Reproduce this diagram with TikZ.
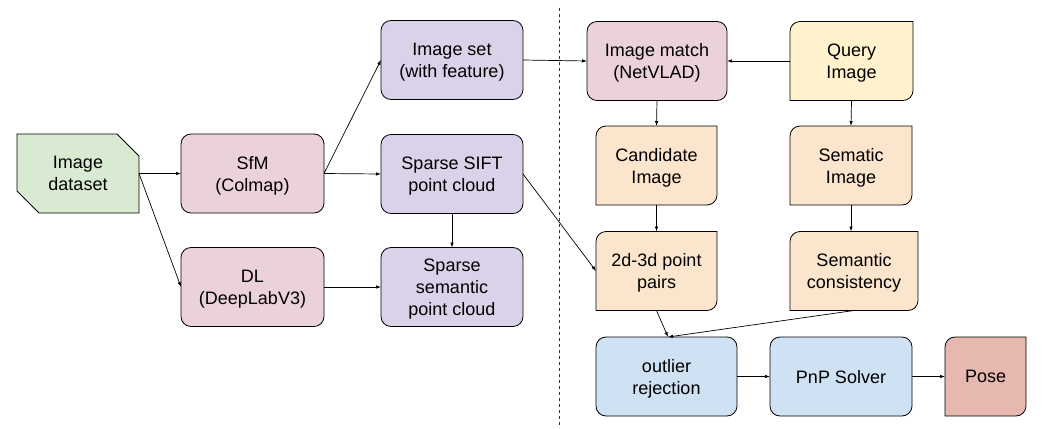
\documentclass[tikz,border=0pt]{standalone}
\usepackage{fontspec}
\setmainfont{Liberation Sans}
\usetikzlibrary{shapes.misc,arrows.meta,backgrounds}
\newcommand{\boxfont}{\fontsize{18}{22}\selectfont}
\newcommand{\cornerpath}[2]{%
  \draw[fill=#2,line width=0.8pt] (#1.north east) -- ([yshift=10pt]#1.south east) arc[start angle=0,end angle=-90,radius=10pt] -- (#1.south west) -- ([yshift=-10pt]#1.north west) arc[start angle=180,end angle=90,radius=10pt] -- cycle;}
\definecolor{dsetgreen}{HTML}{D9EAD3}
\definecolor{stagepink}{HTML}{EAD1DC}
\definecolor{mappurple}{HTML}{D9D2E9}
\definecolor{queryyellow}{HTML}{FFF2CC}
\definecolor{imgpeach}{HTML}{FCE5CD}
\definecolor{solveblue}{HTML}{CFE2F3}
\definecolor{poserose}{HTML}{E6B8AF}
\begin{document}
\begin{tikzpicture}[x=1pt,y=1pt]
	          \useasboundingbox (0,0) rectangle (1043,-428);
	          \begin{scope}[every node/.style={align=center,font=\boxfont,text depth=-2pt,outer sep=0pt,line width=0.8pt,minimum height=79pt}]
	            \node[chamfered rectangle,chamfered rectangle corners={north east,south west},chamfered rectangle xsep=11pt,chamfered rectangle ysep=11pt,draw,fill=dsetgreen,minimum width=122pt] (dset) at (78,-173.5) {Image\\dataset};
	            \node[draw,rounded corners=10pt,fill=stagepink,minimum width=143pt] (sfm) at (252.5,-173.5) {SfM\\(Colmap)};
	            \node[draw,rounded corners=10pt,fill=stagepink,minimum width=143pt] (dl) at (252.5,-287) {DL\\(DeepLabV3)};
	            \node[draw,rounded corners=10pt,fill=mappurple,minimum width=142pt] (iset) at (452,-60) {Image set\\(with feature)};
	            \node[draw,rounded corners=10pt,fill=mappurple,minimum width=142pt] (sift) at (452,-174) {Sparse SIFT\\point cloud};
	            \node[draw,rounded corners=10pt,fill=mappurple,minimum width=142pt] (ssem) at (452,-287) {Sparse\\semantic\\point cloud};
	            \node[draw,rounded corners=10pt,fill=stagepink,minimum width=140pt] (match) at (657,-61) {Image match\\(NetVLAD)};
	            \node[minimum width=123pt] (query) at (851.5,-61) {Query\\Image};
	            \node[minimum width=121pt] (cand) at (656.5,-165.5) {Candidate\\Image};
	            \node[minimum width=122pt] (semimg) at (851,-165.5) {Sematic\\Image};
	            \node[minimum width=121pt] (pairs) at (656.5,-271) {2d-3d point\\pairs};
	            \node[minimum width=128pt] (cons) at (854,-271) {Semantic\\consistency};
	            \node[draw,rounded corners=10pt,fill=solveblue,minimum width=141pt] (outlier) at (666.5,-376.5) {outlier\\rejection};
	            \node[draw,rounded corners=10pt,fill=solveblue,minimum width=142pt] (pnp) at (841,-376.5) {PnP Solver};
	            \node[minimum width=81pt] (pose) at (985.5,-376.5) {Pose};
	          \end{scope}
	          \begin{scope}[on background layer]
	            \cornerpath{query}{queryyellow}
	            \cornerpath{cand}{imgpeach}
	            \cornerpath{semimg}{imgpeach}
	            \cornerpath{pairs}{imgpeach}
	            \cornerpath{cons}{imgpeach}
	            \cornerpath{pose}{poserose}
	          \end{scope}
	          % separator between offline and online part
	          \coordinate (septop) at (559,-8);
	          \coordinate (sepbot) at (559,-428);
	          \draw[dashed,line width=0.7pt,black!80] (septop) -- (sepbot);
	          \begin{scope}[every edge/.style={draw=black,line width=0.7pt,-{Latex[length=5pt,width=3.5pt]}}]
	            \path (dset.east) edge (sfm.west);
	            \path (dset.east) edge (dl.west);
	            \path (sfm.east) edge (iset.west);
	            \path (sfm.east) edge (sift.west);
	            \path (dl.east) edge (ssem.west);
	            \path (sift.south) edge (ssem.north);
	            \path (sift.east) edge (pairs.west);
	            \path (iset.east) edge (match.west);
	            \path (query.west) edge (match.east);
	            \path (match.south) edge (cand.north);
	            \path (cand.south) edge (pairs.north);
	            \path (query.south) edge (semimg.north);
	            \path (semimg.south) edge (semimg.south |- cons.north);
	            \path (pairs.south) edge ([xshift=1.5pt]outlier.north);
	            \path (cons.south) edge ([xshift=1.5pt]outlier.north);
	            \path (outlier.east) edge (pnp.west);
	            \path (pnp.east) edge (pose.west);
	          \end{scope}
	        \end{tikzpicture}
\end{document}
